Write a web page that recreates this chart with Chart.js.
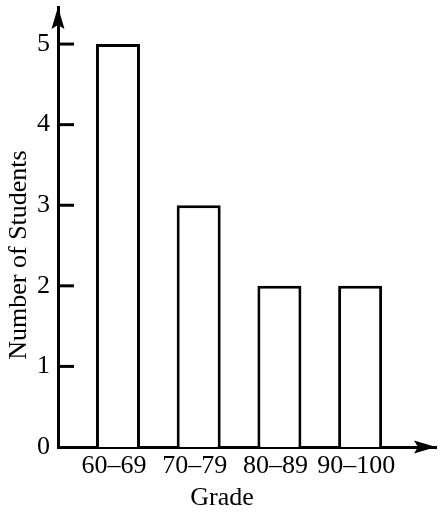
<!DOCTYPE html>
<html>
<head>
<meta charset="utf-8">
<script src="https://cdn.jsdelivr.net/npm/chart.js@4/dist/chart.umd.min.js"></script>
<style>
  html, body { margin: 0; padding: 0; background: #fff; }
  #wrap { width: 442px; height: 514px; }
</style>
</head>
<body>
<div id="wrap"><canvas id="grafico"></canvas></div>
<script>
// dados do histograma
const grades = ['60–69', '70–79', '80–89', '90–100'];
const students = [5, 3, 2, 2];
const yTicks = [0, 1, 2, 3, 4, 5];

const fonte = 'Liberation Serif, Times New Roman, serif';

// setas nos eixos, marcas internas do eixo y e títulos dos eixos
const eixosPlugin = {
    id: 'eixos',
    afterDraw(chart) {
        const ctx = chart.ctx;
        const area = chart.chartArea;
        const y = chart.scales.y;
        ctx.save();
        ctx.fillStyle = '#000';
        ctx.strokeStyle = '#000';
        ctx.lineWidth = 3;

        // marcas para dentro
        yTicks.forEach(v => {
            if (v === 0) return;
            const py = y.getPixelForValue(v);
            ctx.beginPath();
            ctx.moveTo(area.left, py);
            ctx.lineTo(area.left + 16, py);
            ctx.stroke();
        });

        // seta vertical
        const x0 = area.left;
        ctx.beginPath();
        ctx.moveTo(x0, area.top);
        ctx.lineTo(x0 + 6.5, area.top + 22);
        ctx.lineTo(x0, area.top + 18);
        ctx.lineTo(x0 - 6.5, area.top + 22);
        ctx.closePath();
        ctx.fill();

        // seta horizontal
        const y0 = area.bottom;
        ctx.beginPath();
        ctx.moveTo(area.right, y0);
        ctx.lineTo(area.right - 22, y0 - 6.5);
        ctx.lineTo(area.right - 18, y0);
        ctx.lineTo(area.right - 22, y0 + 6.5);
        ctx.closePath();
        ctx.fill();

        ctx.font = '26px ' + fonte;
        ctx.textAlign = 'center';
        ctx.textBaseline = 'middle';

        // título do eixo x
        ctx.fillText('Grade', 222, 498);

        // título do eixo y
        ctx.translate(19, 255);
        ctx.rotate(-Math.PI / 2);
        ctx.fillText('Number of Students', 0, 0);
        ctx.restore();
    }
};

const ctx = document.getElementById('grafico').getContext('2d');
new Chart(ctx, {
    type: 'bar',
    data: {
        datasets: [{
            data: students.map((v, i) => ({ x: i, y: v })),
            backgroundColor: '#fff',
            borderColor: '#000',
            borderWidth: 3,
            barPercentage: 0.545,
            categoryPercentage: 1
        }]
    },
    plugins: [eixosPlugin],
    options: {
        responsive: true,
        maintainAspectRatio: false,
        animation: false,
        layout: { padding: { top: 7, right: 6, left: 0, bottom: 0 } },
        plugins: {
            legend: { display: false },
            tooltip: { enabled: false }
        },
        scales: {
            x: {
                type: 'linear',
                offset: false,
                min: -0.743,
                max: 3.94,
                afterFit(scale) {
                    scale.height = 67;
                    scale.paddingLeft = 0;
                    scale.paddingRight = 0;
                },
                afterBuildTicks(scale) {
                    scale.ticks = grades.map((g, i) => ({ value: i }));
                },
                grid: { display: false, drawTicks: false, offset: false },
                border: { display: true, color: '#000', width: 3 },
                ticks: {
                    color: '#000',
                    padding: 4,
                    labelOffset: -4,
                    maxRotation: 0,
                    autoSkip: false,
                    font: { family: fonte, size: 26 },
                    callback: v => grades[v] ?? ''
                }
            },
            y: {
                min: 0,
                max: 5.46,
                afterFit(scale) {
                    scale.width = 58;
                    scale.paddingTop = 0;
                    scale.paddingBottom = 0;
                },
                afterBuildTicks(scale) {
                    scale.ticks = yTicks.map(v => ({ value: v }));
                },
                grid: { display: false, drawTicks: false },
                border: { display: true, color: '#000', width: 3 },
                ticks: {
                    color: '#000',
                    padding: 8,
                    font: { family: fonte, size: 26 }
                }
            }
        }
    }
});
</script>
</body>
</html>
